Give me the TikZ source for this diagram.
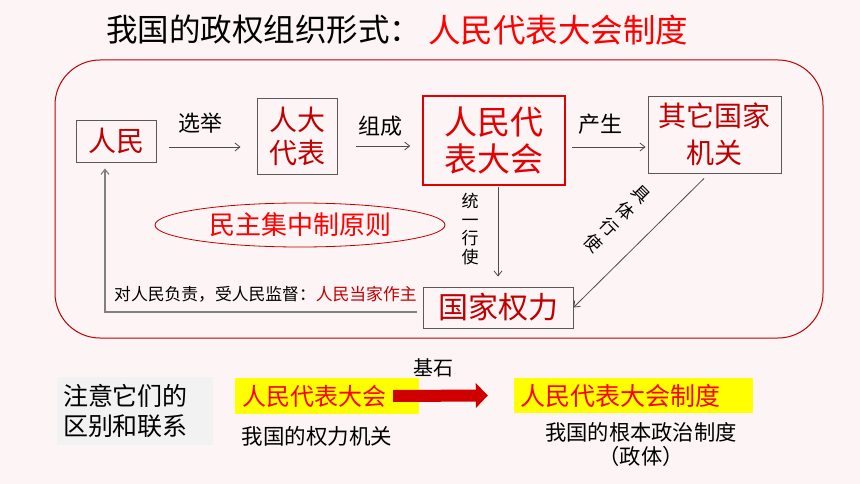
\documentclass[tikz,border=0pt]{standalone}
\usepackage{fontspec}
\setmainfont{Noto Sans CJK SC}
\usepackage{tikz}
\usetikzlibrary{arrows.meta}
\usetikzlibrary{shapes.geometric}

\definecolor{bgpink}{RGB}{252,244,245}
\definecolor{dred}{RGB}{192,0,0}
\definecolor{npcred}{RGB}{228,0,0}
\definecolor{brightred}{RGB}{255,0,0}
\definecolor{boxgray}{RGB}{89,89,89}
\definecolor{hlyellow}{RGB}{255,255,0}
\definecolor{arrowred}{RGB}{208,0,0}
\newcommand{\fsz}[2]{\fontsize{#1}{#2}\selectfont}

\begin{document}
\begin{tikzpicture}[x=1pt,y=-1pt,
    box/.style={draw=boxgray,line width=0.9pt,inner sep=0pt,align=center,text=dred},
    flow/.style={draw=black!70,line width=0.8pt,-{Straight Barb[length=5pt,width=8pt]}},
    lbl/.style={inner sep=0pt,align=center},
    hl/.style={fill=hlyellow,inner ysep=0pt,text=brightred,align=left},
    bigarrow/.style={draw=arrowred,line width=12pt,-{Triangle[length=12pt,width=25pt,line width=0pt]}}]
\useasboundingbox (0,0) rectangle (860,484);
\fill[bgpink] (0,0) rectangle (860,484);
\draw[dred,line width=1pt,rounded corners=45pt] (55,60) rectangle (823,338);
\node[lbl,anchor=west,font=\fsz{31.5}{36}] (title) at (106,30) {我国的政权组织形式：};
\node[lbl,anchor=west,font=\fsz{32.5}{38},text=brightred] (titlered) at (428,30) {人民代表大会制度};

\node[box,minimum width=80pt,minimum height=42pt,font=\fsz{28}{33}] (renmin) at (116,141) {人民};
\node[box,minimum width=80pt,minimum height=76pt,font=\fsz{28}{33}] (daibiao) at (297,136) {人大\\代表};
\node[box,draw=npcred,line width=1.6pt,minimum width=142pt,minimum height=89pt,font=\fsz{33}{37},text=npcred] (npc) at (494,140.5) {人民代\\表大会};
\node[box,minimum width=133pt,minimum height=77pt,font=\fsz{28}{37}] (jiguan) at (714.5,134.5) {其它国家\\机关};
\node[box,minimum width=150pt,minimum height=41pt,font=\fsz{30}{36}] (quanli) at (498,307.5) {国家权力};
\node[ellipse,draw=dred,line width=0.8pt,minimum width=290pt,minimum height=44pt,inner sep=0pt,font=\fsz{26}{30},text=brightred] (yuanze) at (300,225) {民主集中制原则};

\draw[flow,shorten <=13pt,shorten >=16pt] ([yshift=-6pt]renmin.east) coordinate (a1) -- (daibiao.west |- a1);
\draw[flow,shorten <=19pt,shorten >=12pt] ([yshift=-10pt]daibiao.east) coordinate (a2) -- (npc.west |- a2);
\draw[flow,shorten <=6pt,shorten >=2pt] ([yshift=-6.5pt]npc.east) coordinate (a3) -- (jiguan.west |- a3);
\draw[flow,shorten <=1pt,shorten >=10pt] (quanli.north |- npc.south) -- (quanli.north);
\draw[flow] ([xshift=-10.5pt,yshift=-5pt]jiguan.south) -- (quanli.east);
\draw[flow,draw=black!50,line width=1.2pt] ([xshift=-6pt,yshift=-4.5pt]quanli.west) -| ([xshift=-11pt,yshift=-6pt]renmin.south);

\node[lbl,font=\fsz{22}{26}] (xuanju) at (200,123) {选举};
\node[lbl,font=\fsz{22}{26}] (zucheng) at (380,126) {组成};
\node[lbl,font=\fsz{22}{26}] (chansheng) at (600,124) {产生};
\node[lbl,font=\fsz{17}{18.7}] (tongyi) at (470,229) {统\\一\\行\\使};
\node[lbl,font=\fsz{17.5}{23},rotate=-45] (juti) at (617,219) {具\\体\\行\\使};
\node[lbl,anchor=west,font=\fsz{16.8}{20}] (fuze) at (114,294) {对人民负责，受人民监督：\textcolor{dred}{人民当家作主}};

\node[fill=gray!10,minimum width=156pt,minimum height=68pt,inner xsep=6pt,inner ysep=0pt,text width=144pt,align=left,font=\fsz{25}{30}] (zhuyi) at (135,411) {注意它们的\\区别和联系};
\node[hl,minimum height=36pt,inner xsep=7pt,text width=170pt,font=\fsz{24}{28}] (ydh) at (327,396) {人民代表大会};
\node[hl,minimum height=35pt,inner xsep=6pt,text width=227pt,font=\fsz{25}{28}] (zhidu) at (633.5,395.5) {人民代表大会制度};
\draw[bigarrow] ([xshift=-26pt]ydh.east) -- ([xshift=-26pt]zhidu.west);
\node[lbl,font=\fsz{20}{24}] (jishi) at (433,368) {基石};
\node[lbl,font=\fsz{21.5}{26}] (jiguan2) at (317,436) {我国的权力机关};
\node[lbl,font=\fsz{21.3}{24}] (zhengti) at (641,445) {我国的根本政治制度\\（政体）};
\end{tikzpicture}
\end{document}
